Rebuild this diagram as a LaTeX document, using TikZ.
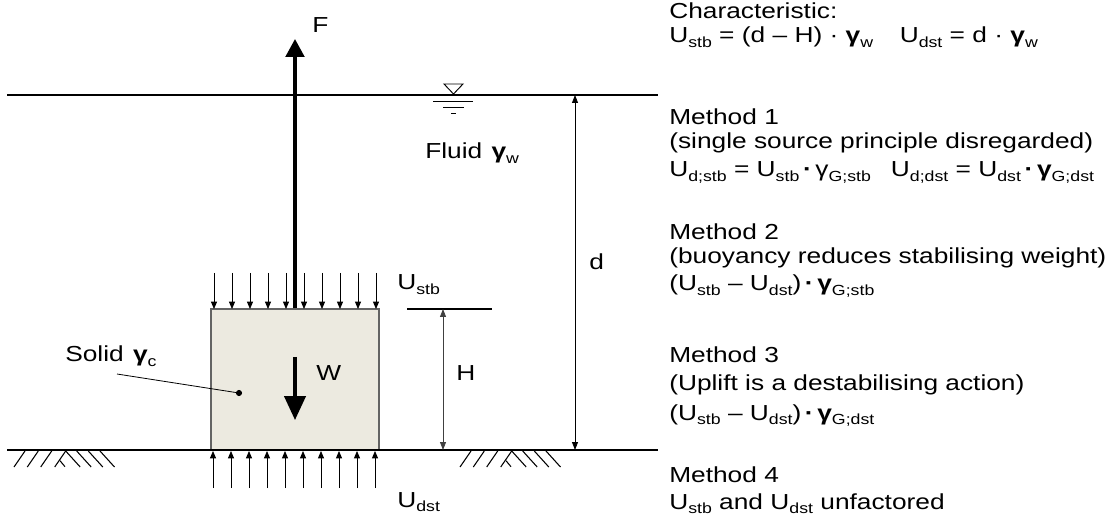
\documentclass[tikz,border=0pt]{standalone}
\usepackage{fontspec}
\setmainfont{Liberation Sans}[FakeStretch=1.21]
\usetikzlibrary{arrows.meta}
\definecolor{blockfill}{RGB}{236,234,224}
\definecolor{blockline}{RGB}{100,100,100}
\newcommand\sbs[1]{\raisebox{-3.2pt}{\fontsize{11pt}{12pt}\selectfont #1}}
\newcommand\gam{{\bfseries γ}}
\newcommand\bdot{\,{\bfseries ·}\,}
\begin{document}
\begin{tikzpicture}[x=0.75pt,y=-0.75pt,
  lbl/.style={inner sep=0, anchor=base west, font=\fontsize{16.3pt}{19pt}\selectfont},
  plain/.style={line width=0.8pt},
  load/.style={line width=0.6pt, -{Triangle[length=5.5pt,width=4.5pt]}},
  bigF/.style={line width=2.4pt, -{Triangle[length=13.5pt,width=14pt]}},
  bigW/.style={line width=2.4pt, -{Triangle[length=18pt,width=16pt]}},
  dim/.style={line width=0.6pt, {Triangle[length=6pt,width=4.5pt]}-{Triangle[length=6pt,width=4.5pt]}},
  hatch/.style={line width=0.8pt}]
\useasboundingbox (0,0) rectangle (1105,523);
% block
\node[draw=blockline, fill=blockfill, line width=0.8pt, minimum width=126pt, minimum height=105.75pt, inner sep=0] (blk) at (295,379.5) {};
% water and ground lines
\coordinate (wl) at (7,95); \coordinate (wr) at (658,95);
\coordinate (gl) at (7,450); \coordinate (gr) at (658,450);
\draw[plain] (wl) -- (wr);
\draw[plain] (gl) -- (gr);
% water level symbol
\coordinate (t1) at (444,84); \coordinate (t2) at (463,84); \coordinate (t3) at (453.5,94);
\draw[line width=0.7pt] (t1) -- (t2) -- (t3) -- cycle;
\draw[line width=0.7pt] (433,101) -- (473,101);
\draw[line width=0.7pt] (443,107) -- (464,107);
\draw[line width=0.7pt] (451,113) -- (456,113);
% hatching
\foreach \ox in {0,446}{
  \foreach \tx in {25,38.3,51.7,65.7}{ \draw[hatch] ({\ox+\tx},451) -- ({\ox+\tx-11},467); }
  \foreach \tx in {65.7,76.7,88.3,100}{ \draw[hatch] ({\ox+\tx},451) -- ({\ox+\tx+14.5},467); }
  \draw[hatch] ({\ox+60},460.7) -- ({\ox+65},466.7);
}
% loads
\foreach \i in {0,...,9}{
  \coordinate (ts\i) at ({214+18*\i},273); \coordinate (te\i) at ({214+18*\i},309);
  \draw[load] (ts\i) -- (te\i);
  \coordinate (bs\i) at ({213+18*\i},488); \coordinate (be\i) at ({213+18*\i},451);
  \draw[load] (bs\i) -- (be\i);
}
% F and W
\coordinate (Ftip) at (295,39);
\draw[bigF] (blk.north) -- (Ftip);
\coordinate (Ws) at (295,357); \coordinate (We) at (295,420);
\draw[bigW] (Ws) -- (We);
% dimensions
\coordinate (d1) at (575,95); \coordinate (d2) at (575,450);
\draw[dim] (d1) -- (d2);
\coordinate (hl) at (407,309); \coordinate (hr) at (492,309);
\draw[plain] (hl) -- (hr);
\coordinate (h1) at (443,309); \coordinate (h2) at (443,450);
\draw[dim, draw=black!75, fill=black!75] (h1) -- (h2);
% leader
\coordinate (ls) at (117,374);
\node[circle, fill=black, inner sep=0, minimum size=4.6pt] (dot) at (239,393) {};
\draw[line width=0.6pt] (ls) -- (dot.center);
% labels
\node[lbl] (F) at (312,33) {F};
\node[lbl] (fluid) at (425,159) {Fluid\hspace{7pt}\gam\sbs{w}};
\node[lbl] (dl) at (589,270) {d};
\node[lbl] (Hl) at (456,380) {H};
\node[lbl] (Wl) at (316,381) {W};
\node[lbl] (us) at (397,290) {U\sbs{stb}};
\node[lbl] (ud) at (397,507) {U\sbs{dst}};
\node[lbl] (solid) at (65,362) {Solid\hspace{7pt}\gam\sbs{c}};
% right text
\node[lbl] (c1) at (669,19) {Characteristic:};
\node[lbl] (c2) at (669,43) {U\sbs{stb} = (d – H) · \gam\sbs{w}\hspace{20pt}U\sbs{dst} = d · \gam\sbs{w}};
\node[lbl] (m1a) at (669,125) {Method 1};
\node[lbl] (m1b) at (669,149) {(single source principle disregarded)};
\node[lbl] (m1c) at (669,177) {U\sbs{d;stb} = U\sbs{stb}\bdot γ\sbs{G;stb}\hspace{15pt}U\sbs{d;dst} = U\sbs{dst}\bdot\gam\sbs{G;dst}};
\node[lbl] (m2a) at (669,240) {Method 2};
\node[lbl] (m2b) at (669,264) {(buoyancy reduces stabilising weight)};
\node[lbl] (m2c) at (669,291) {(U\sbs{stb} – U\sbs{dst})\bdot\gam\sbs{G;stb}};
\node[lbl] (m3a) at (669,363) {Method 3};
\node[lbl] (m3b) at (669,390) {(Uplift is a destabilising action)};
\node[lbl] (m3c) at (669,420) {(U\sbs{stb} – U\sbs{dst})\bdot\gam\sbs{G;dst}};
\node[lbl] (m4a) at (669,482) {Method 4};
\node[lbl] (m4b) at (669,509) {U\sbs{stb} and U\sbs{dst} unfactored};
\end{tikzpicture}
\end{document}
